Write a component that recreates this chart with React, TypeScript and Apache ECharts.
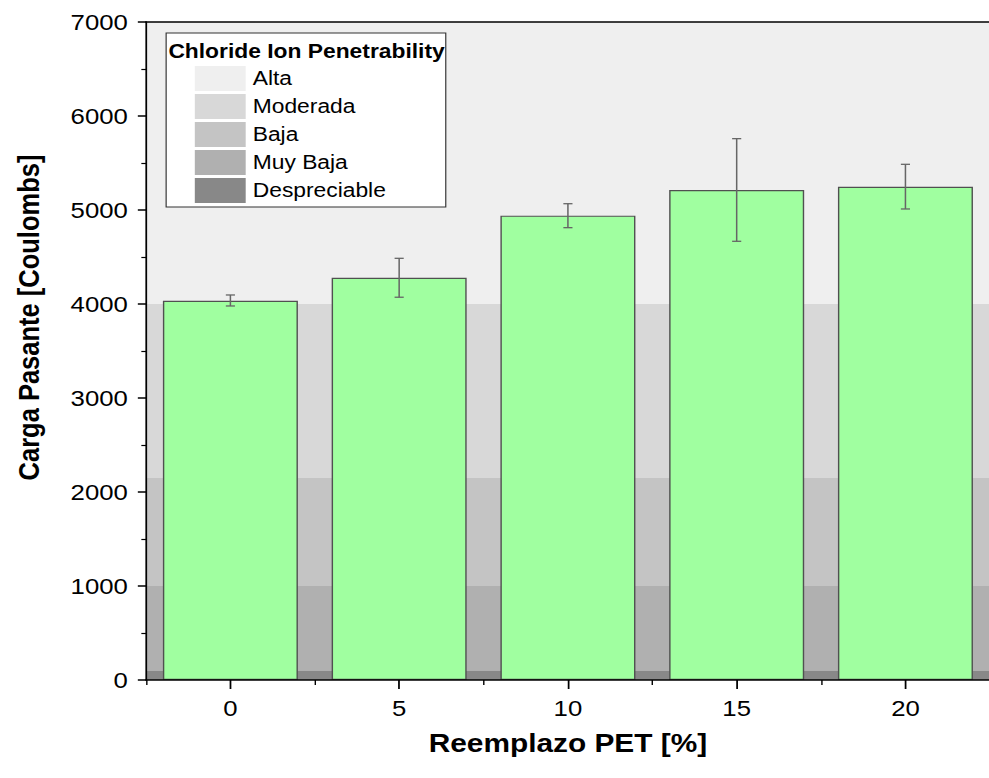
import React, { useEffect, useRef } from "react";
import * as echarts from "echarts";

const categories = ["0", "5", "10", "15", "20"];
const means = [4035, 4278, 4940, 5213, 5248];
const errLow = [3979, 4072, 4812, 4667, 5011];
const errHigh = [4096, 4486, 5067, 5759, 5486];

const bandNames = ["Alta", "Moderada", "Baja", "Muy Baja", "Despreciable"];
const bandRanges: [number, number][] = [
  [4000, 7000],
  [2150, 4000],
  [1000, 2150],
  [100, 1000],
  [0, 100],
];
const bandColors = ["#efefef", "#d8d8d8", "#c4c4c4", "#b0b0b0", "#888888"];

const FONT = "'Liberation Sans', Arial, sans-serif";
// the reference is horizontally stretched; render narrower and scale in x
const SX = 1.17;
const INNER_W = 846;

export default function App() {
  const ref = useRef<HTMLDivElement>(null);
  useEffect(() => {
    document.body.style.margin = "0";
    const chart = echarts.init(ref.current!, undefined, { renderer: "svg" });

    const legendGraphics: any[] = [
      {
        type: "rect",
        shape: { x: 142, y: 33, width: 239, height: 174 },
        style: { fill: "#ffffff", stroke: "#333", lineWidth: 1 },
        z: 100,
      },
      {
        type: "text",
        x: 262,
        y: 51,
        style: {
          text: "Chloride Ion Penetrability",
          font: `bold 19.5px ${FONT}`,
          fill: "#000",
          align: "center",
          verticalAlign: "middle",
        },
        z: 101,
      },
      {
        type: "text",
        x: 24.5,
        y: 317.5,
        rotation: Math.PI / 2,
        style: {
          text: "Carga Pasante [Coulombs]",
          font: `bold 25.5px ${FONT}`,
          fill: "#000",
          align: "center",
          verticalAlign: "middle",
        },
        z: 101,
      },
    ];
    bandNames.forEach((n, i) => {
      const cy = 78.5 + i * 28;
      legendGraphics.push({
        type: "rect",
        shape: { x: 166.5, y: cy - 12.5, width: 43.5, height: 25 },
        style: { fill: bandColors[i] },
        z: 101,
      });
      legendGraphics.push({
        type: "text",
        x: 216,
        y: cy,
        style: {
          text: n,
          font: `19.5px ${FONT}`,
          fill: "#000",
          align: "left",
          verticalAlign: "middle",
        },
        z: 101,
      });
    });

    const option: any = {
      animation: false,
      backgroundColor: "#ffffff",
      textStyle: { fontFamily: FONT },
      grid: { left: 124.8, top: 22, width: 722, height: 658, containLabel: false },
      xAxis: [
        {
          type: "category",
          data: categories,
          position: "bottom",
          name: "Reemplazo PET [%]",
          nameLocation: "middle",
          nameGap: 50,
          nameTextStyle: { fontSize: 25.5, fontWeight: "bold", color: "#000", fontFamily: FONT },
          axisLine: { show: true, lineStyle: { color: "#000", width: 1.5 } },
          axisTick: { show: true, alignWithLabel: true, length: 9, lineStyle: { color: "#000", width: 1.5 } },
          axisLabel: { fontSize: 22, color: "#000", margin: 17, fontFamily: FONT },
          splitLine: { show: false },
          z: 10,
        },
        {
          type: "category",
          data: categories,
          position: "bottom",
          axisLine: { show: false },
          axisTick: { show: true, alignWithLabel: false, length: 5, lineStyle: { color: "#000", width: 1.2 } },
          axisLabel: { show: false },
          splitLine: { show: false },
        },
        {
          type: "category",
          data: categories,
          position: "top",
          axisLine: { show: true, lineStyle: { color: "#000", width: 1.5 } },
          axisTick: { show: false },
          axisLabel: { show: false },
          splitLine: { show: false },
          z: 10,
        },
      ],
      yAxis: {
        type: "value",
        min: 0,
        max: 7000,
        interval: 1000,
        axisLine: { show: true, lineStyle: { color: "#000", width: 1.5 } },
        axisTick: { show: true, length: 7, lineStyle: { color: "#000", width: 1.5 } },
        minorTick: { show: true, splitNumber: 2, length: 4, lineStyle: { color: "#000", width: 1.2 } },
        axisLabel: {
          fontSize: 22,
          color: "#000",
          margin: 15.5,
          fontFamily: FONT,
          formatter: (v: number) => String(v),
        },
        splitLine: { show: false },
        z: 10,
      },
      series: [
        {
          type: "bar",
          data: means,
          barWidth: "80%",
          itemStyle: { color: "#a0ffa0", borderColor: "#505050", borderWidth: 1.2 },
          markArea: {
            silent: true,
            z: 0,
            data: bandRanges.map((r, i) => [
              { yAxis: r[0], itemStyle: { color: bandColors[i] } },
              { yAxis: r[1] },
            ]),
          },
          z: 2,
        },
        {
          type: "custom",
          data: categories.map((_, i) => [i, errLow[i], errHigh[i]]),
          z: 5,
          renderItem: (params: any, api: any) => {
            const x = api.value(0);
            const lo = api.coord([x, api.value(1)]);
            const hi = api.coord([x, api.value(2)]);
            const hw = 3.9;
            const style = { stroke: "#666666", lineWidth: 1.3 };
            return {
              type: "group",
              children: [
                { type: "line", shape: { x1: lo[0], y1: lo[1], x2: hi[0], y2: hi[1] }, style },
                { type: "line", shape: { x1: lo[0] - hw, y1: lo[1], x2: lo[0] + hw, y2: lo[1] }, style },
                { type: "line", shape: { x1: hi[0] - hw, y1: hi[1], x2: hi[0] + hw, y2: hi[1] }, style },
              ],
            };
          },
        },
      ],
      graphic: legendGraphics,
    };
    chart.setOption(option);
    return () => chart.dispose();
  }, []);
  return (
    <div style={{ width: 989, height: 778, overflow: "hidden", position: "relative" }}>
      <div
        ref={ref}
        style={{
          width: INNER_W,
          height: 778,
          transform: `scaleX(${SX})`,
          transformOrigin: "0 0",
        }}
      />
    </div>
  );
}
